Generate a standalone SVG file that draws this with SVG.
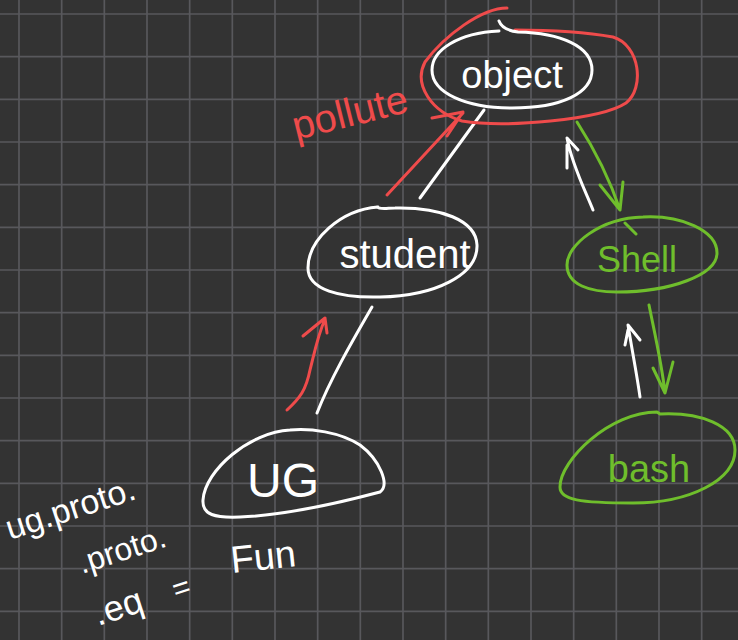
<svg xmlns="http://www.w3.org/2000/svg" width="738" height="640" viewBox="0 0 738 640">
<defs>
<style>
.bg{fill:#333333}
.grid{stroke:#58585c;stroke-width:1.7;fill:none}
.w{stroke:#ffffff;stroke-width:3;fill:none;stroke-linecap:round;stroke-linejoin:round}
.r{stroke:#ef4b4b;stroke-width:3;fill:none;stroke-linecap:round;stroke-linejoin:round}
.g{stroke:#6fbe2c;stroke-width:3;fill:none;stroke-linecap:round;stroke-linejoin:round}
.tw{fill:#ffffff;font-family:"Liberation Sans",Arial,sans-serif}
.tr{fill:#ef4b4b;font-family:"Liberation Sans",Arial,sans-serif}
.tg{fill:#6fbe2c;font-family:"Liberation Sans",Arial,sans-serif}
</style>
</defs>
<rect class="bg" x="0" y="0" width="738" height="640"/>
<g id="grid">
<path class="grid" d="M19,0V640M61.67,0V640M104.33,0V640M147,0V640M189.67,0V640M232.33,0V640M275,0V640M317.67,0V640M360.33,0V640M403,0V640M445.67,0V640M488.33,0V640M531,0V640M573.67,0V640M616.33,0V640M659,0V640M701.67,0V640"/>
<path class="grid" d="M0,14H738M0,56.67H738M0,99.33H738M0,142H738M0,184.67H738M0,227.33H738M0,270H738M0,312.67H738M0,355.33H738M0,398H738M0,440.67H738M0,483.33H738M0,526H738M0,568.67H738M0,611.33H738"/>
</g>
<g id="connectors">
<path class="w" d="M420,198 L484,110"/>
<path class="r" d="M387,195 C410,170 440,138 463,113 M432,118 L463,112 L447,136"/>
<path class="w" d="M317,413 C330,380 350,345 372,307"/>
<path class="r" d="M287,410 C300,398 306,390 310,370 C315,350 318,335 325,319 M303,336 L325,318 L327,333"/>
<path class="w" d="M593,210 C585,190 572,165 567,138 L578,150 M567,145 L567,168"/>
<path class="g" d="M577,122 C595,150 610,180 620,210 M600,185 L620,210 L623,182"/>
<path class="w" d="M640,397 C637,375 632,350 628,325 L640,340 M628,330 L625,345"/>
<path class="g" d="M649,305 C655,335 662,365 665,393 M653,368 L665,393 L673,362"/>
</g>
<g id="object">
<path class="r" d="M507,8 C482,8 445,35 425,62 C413,85 432,112 462,121 C505,128 600,120 626,103 C645,88 640,45 613,37 C580,31 545,30 515,30"/>
<path class="w" d="M499,31 C458,33 432,50 432,70 C432,93 466,108 512,108 C562,108 592,93 592,70 C592,46 560,33 518,32 C510,31 502,29 499,21"/>
<text class="tw" x="512" y="88" font-size="38" text-anchor="middle">object</text>
</g>
<text id="pollute" class="tr" x="296" y="140" font-size="40" transform="rotate(-14 296 140)">pollute</text>
<g id="student">
<path class="w" d="M378,207 C340,210 308,240 308,268 C308,290 340,298 380,297 C435,296 478,275 477,245 C476,220 440,207 395,208 C388,208 380,210 377,207"/>
<text class="tw" x="405" y="268" font-size="40" text-anchor="middle">student</text>
</g>
<g id="ug">
<path class="w" d="M290,430 C250,432 205,470 203,500 C202,515 215,518 240,517 C290,515 350,500 380,492 C390,485 380,460 360,445 C340,432 310,428 290,430 Z"/>
<text class="tw" x="283" y="497" font-size="48" text-anchor="middle">UG</text>
</g>
<g id="shell">
<path class="g" d="M643,217 C600,218 567,245 567,265 C567,285 590,292 617,292 C670,292 717,275 717,253 C717,230 680,215 643,217 Z M625,223 L636,234"/>
<text class="tg" x="637" y="272" font-size="36" text-anchor="middle">Shell</text>
</g>
<g id="bash">
<path class="g" d="M657,412 C610,412 560,460 560,487 C560,500 580,503 633,503 C690,503 735,480 735,450 C735,425 700,412 660,414 Z"/>
<text class="tg" x="649" y="482" font-size="38" text-anchor="middle">bash</text>
</g>
<g id="note">
<text class="tw" x="10" y="540" font-size="34" transform="rotate(-18 10 540)">ug.proto.</text>
<text class="tw" x="82" y="574" font-size="32" transform="rotate(-18 82 574)">.proto.</text>
<text class="tw" x="98" y="626" font-size="36" transform="rotate(-18 98 626)">.eq</text>
<text class="tw" x="176" y="600" font-size="30" transform="rotate(-18 176 600)">=</text>
<text class="tw" x="232" y="573" font-size="38" transform="rotate(-6 232 573)">Fun</text>
</g>
</svg>
